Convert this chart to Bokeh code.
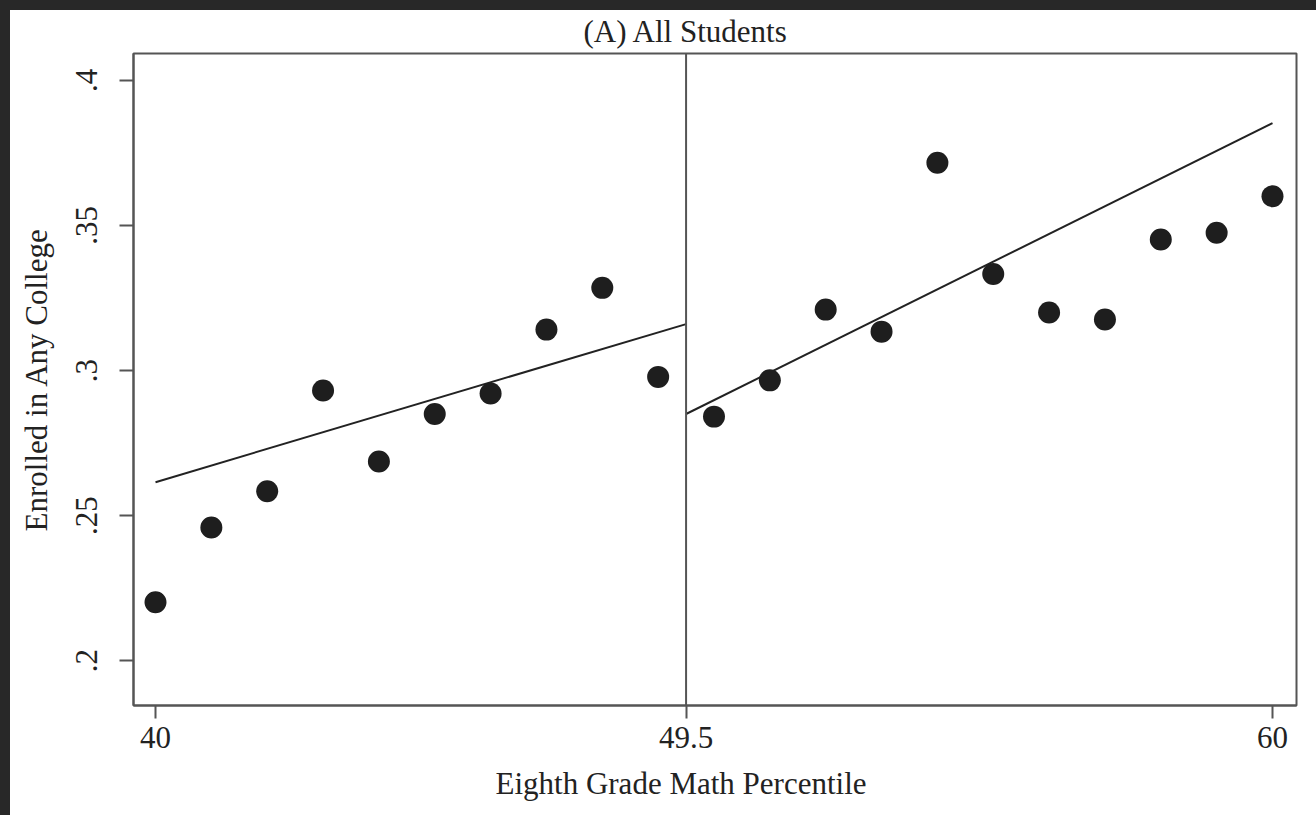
from bokeh.plotting import figure
from bokeh.models import Span, FixedTicker, Range1d, Title
from bokeh.embed import file_html
from bokeh.resources import INLINE

# ---- data ----
x_left = [40, 41, 42, 43, 44, 45, 46, 47, 48, 49]
y_left = [0.2201, 0.2459, 0.2584, 0.2931, 0.2686, 0.2850, 0.2921, 0.3141, 0.3285, 0.2978]
x_right = [50, 51, 52, 53, 54, 55, 56, 57, 58, 59, 60]
y_right = [0.2841, 0.2966, 0.3210, 0.3134, 0.3716, 0.3333, 0.3200, 0.3176, 0.3452, 0.3475, 0.3601]

fit_left_x = [40, 49.5]
fit_left_y = [0.2615, 0.3160]
fit_right_x = [49.5, 60]
fit_right_y = [0.2850, 0.3853]

cutoff = 49.5
x_ticks = [40, 49.5, 60]
x_tick_labels = ["40", "49.5", "60"]
y_ticks = [0.2, 0.25, 0.3, 0.35, 0.4]
y_tick_labels = [".2", ".25", ".3", ".35", ".4"]

title_text = "(A) All Students"
x_label = "Eighth Grade Math Percentile"
y_label = "Enrolled in Any College"

FONT = "Liberation Serif"
FS = "31px"
TXT = "#222222"
GREY = "#555555"

p = figure(width=1308, height=814, output_backend="svg", toolbar_location=None,
           x_range=Range1d(39.606, 60.43), y_range=Range1d(0.1845, 0.4093),
           min_border_left=133, min_border_right=12, min_border_top=53, min_border_bottom=109,
           background_fill_color="white", border_fill_color="white")

p.title.text = title_text
p.title.align = "left"
p.title.offset = 450
p.title.text_font = FONT
p.title.text_font_size = FS
p.title.text_font_style = "normal"
p.title.text_color = TXT
p.title.standoff = 10

p.grid.visible = False
p.outline_line_color = GREY
p.outline_line_width = 2

for ax in (p.xaxis[0], p.yaxis[0]):
    ax.axis_line_color = GREY
    ax.axis_line_width = 2
    ax.major_tick_line_color = GREY
    ax.major_tick_line_width = 2
    ax.minor_tick_line_color = None
    ax.major_tick_in = 0
    ax.major_label_text_font = FONT
    ax.major_label_text_font_size = FS
    ax.major_label_text_color = TXT
    ax.axis_label_text_font = FONT
    ax.axis_label_text_font_size = FS
    ax.axis_label_text_font_style = "normal"
    ax.axis_label_text_color = TXT

p.xaxis.ticker = FixedTicker(ticks=x_ticks)
p.xaxis.major_label_overrides = {t: l for t, l in zip(x_ticks, x_tick_labels)}
p.xaxis.major_tick_out = 13
p.xaxis.major_label_standoff = 8

xlab = Title(text=x_label, align="left", offset=362, text_font=FONT, text_font_size=FS,
             text_font_style="normal", text_color=TXT, standoff=26)
p.add_layout(xlab, "below")

p.yaxis.ticker = FixedTicker(ticks=y_ticks)
p.yaxis.major_label_overrides = {t: l for t, l in zip(y_ticks, y_tick_labels)}
p.yaxis.major_tick_out = 14
p.yaxis.major_label_orientation = "vertical"
p.yaxis.major_label_standoff = 22
p.yaxis.axis_label = y_label
p.yaxis.axis_label_standoff = 20

p.add_layout(Span(location=cutoff, dimension="height", line_color=GREY, line_width=2))

p.line(fit_left_x, fit_left_y, line_color="#222222", line_width=2)
p.line(fit_right_x, fit_right_y, line_color="#222222", line_width=2)

p.scatter(x_left, y_left, size=22, fill_color="#1e1e1e", line_color=None)
p.scatter(x_right, y_right, size=22, fill_color="#1e1e1e", line_color=None)

html = file_html(p, INLINE)
css = ("<style>html,body{margin:0 !important;padding:0 !important;overflow:hidden !important;"
       "background:#ffffff !important;}</style>")
strips = ('<div style="position:fixed;left:0;top:0;width:10px;height:100%;background:#282828;z-index:9999"></div>'
          '<div style="position:fixed;left:0;top:0;width:100%;height:10px;background:#282828;z-index:9999"></div>')
html = html.replace("</head>", css + "</head>", 1)
html = html.replace("</body>", strips + "</body>", 1)
open("out.html", "w").write(html)
